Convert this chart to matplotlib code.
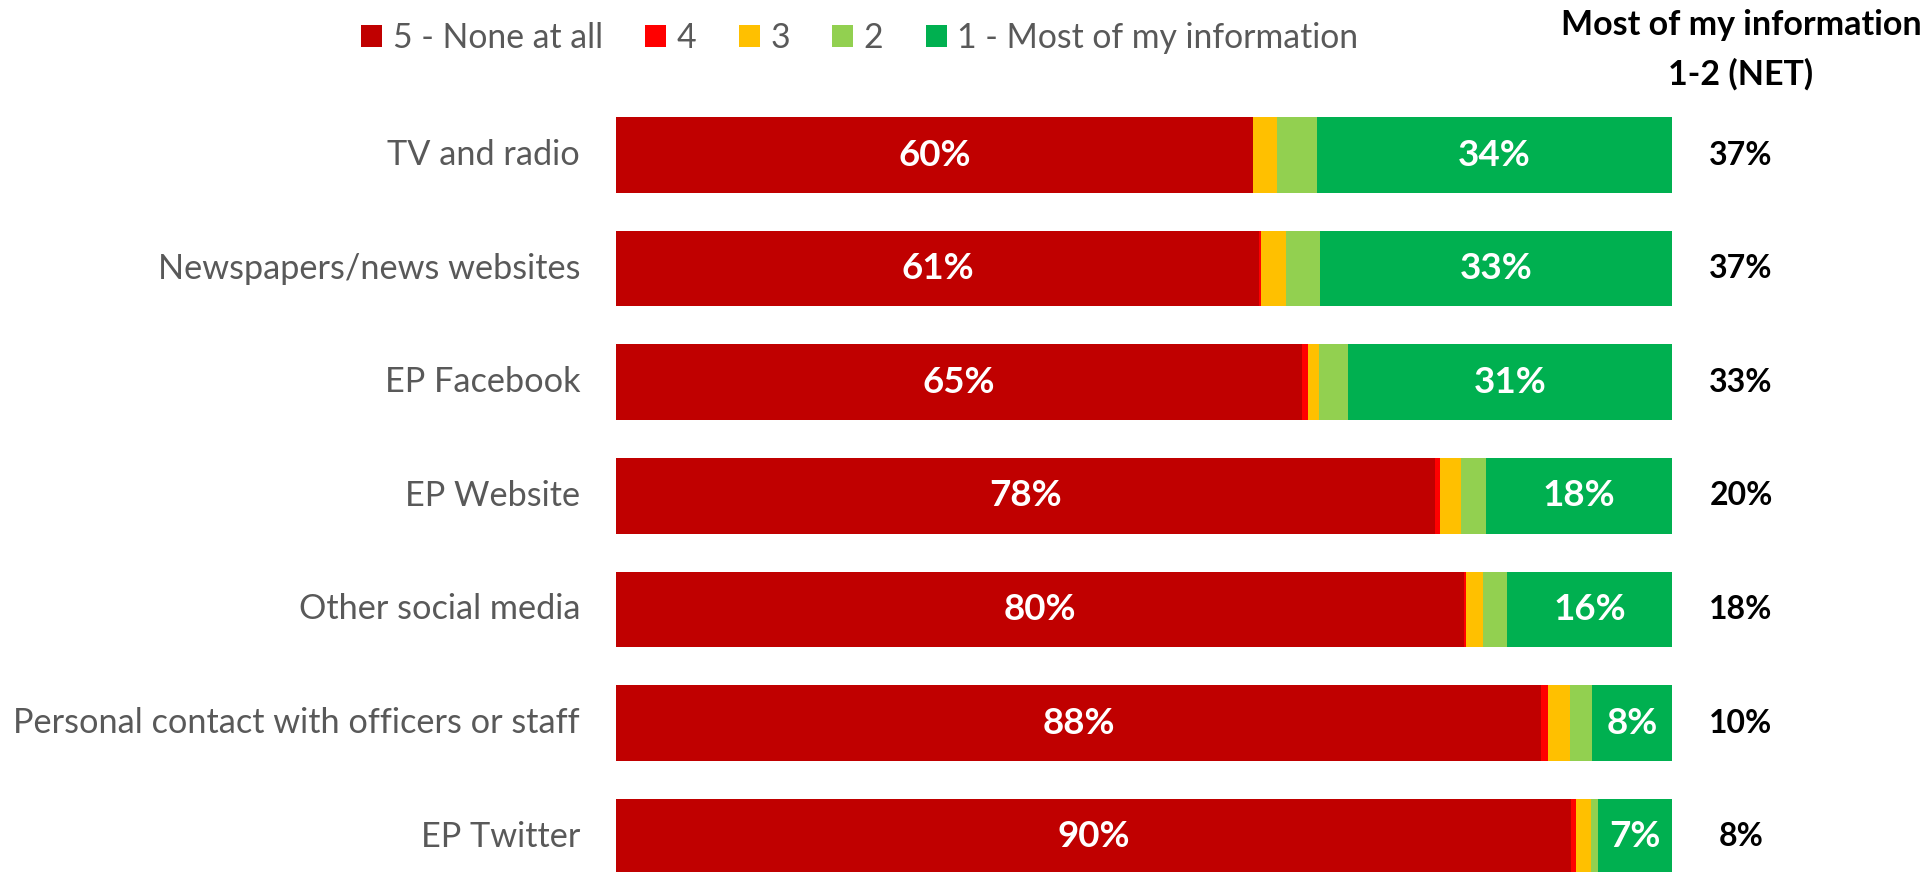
import matplotlib
matplotlib.use("Agg")
import matplotlib.pyplot as plt
from matplotlib.patches import Patch

plt.rcParams['font.family'] = ['Lato', 'DejaVu Sans']

categories = ["TV and radio", "Newspapers/news websites", "EP Facebook", "EP Website",
              "Other social media", "Personal contact with officers or staff", "EP Twitter"]
series_names = ["5 - None at all", "4", "3", "2", "1 - Most of my information"]
s5 = [60.3, 60.9, 65.0, 77.6, 80.3, 87.6, 90.4]
s4 = [0.0, 0.2, 0.5, 0.4, 0.2, 0.7, 0.5]
s3 = [2.3, 2.3, 1.1, 2.0, 1.6, 2.0, 1.4]
s2 = [3.8, 3.3, 2.7, 2.4, 2.3, 2.1, 0.7]
s1 = [33.6, 33.3, 30.7, 17.6, 15.6, 7.6, 7.0]
colors = ["#C00000", "#FF0000", "#FFC000", "#92D050", "#00B050"]
series = [s5, s4, s3, s2, s1]
net = [a + b for a, b in zip(s2, s1)]

W, H = 1931, 872
fig = plt.figure(figsize=(W / 100, H / 100), dpi=100)
x0, x1 = 616, 1672
ax = fig.add_axes([x0 / W, 0, (x1 - x0) / W, 1])
pitch = 113.6
c0 = 155
ax.set_ylim((H - c0) / pitch, -c0 / pitch)
ax.set_xlim(0, 100)
ax.axis('off')

ypos = list(range(len(categories)))
left = [0.0] * len(categories)
for vals, col, name in zip(series, colors, series_names):
    ax.barh(ypos, vals, left=left, height=0.665, color=col, edgecolor='none', label=name)
    for i, v in enumerate(vals):
        if v >= 5:
            ax.text(left[i] + v / 2, i, f"{v:.0f}%", ha='center', va='center',
                    color='white', fontsize=26.5, fontweight='bold')
    left = [l + v for l, v in zip(left, vals)]

for i, c in enumerate(categories):
    ax.text(-3.4, i, c, ha='right', va='center', color='#595959', fontsize=24.7, clip_on=False)

xnet = (1741 - x0) / (x1 - x0) * 100
for i, n in enumerate(net):
    ax.text(xnet, i, f"{n:.0f}%", ha='center', va='center', color='black',
            fontsize=23, fontweight='bold', clip_on=False)

fig.text(1741 / W, 1 - 25 / H, "Most of my information", ha='center', va='center',
         fontsize=24.5, fontweight='bold', color='black')
fig.text(1741 / W, 1 - 74 / H, "1-2 (NET)", ha='center', va='center',
         fontsize=24.5, fontweight='bold', color='black')

handles = [Patch(facecolor=c, edgecolor='none') for c in colors]
fig.legend(handles, series_names, loc='center left', bbox_to_anchor=(361 / W, 1 - 38 / H),
           ncol=5, frameon=False, fontsize=24.3, labelcolor='#595959',
           handlelength=0.62, handleheight=0.62, handletextpad=0.32, columnspacing=1.25,
           borderaxespad=0, borderpad=0)

fig.savefig("out.png", dpi=100)
